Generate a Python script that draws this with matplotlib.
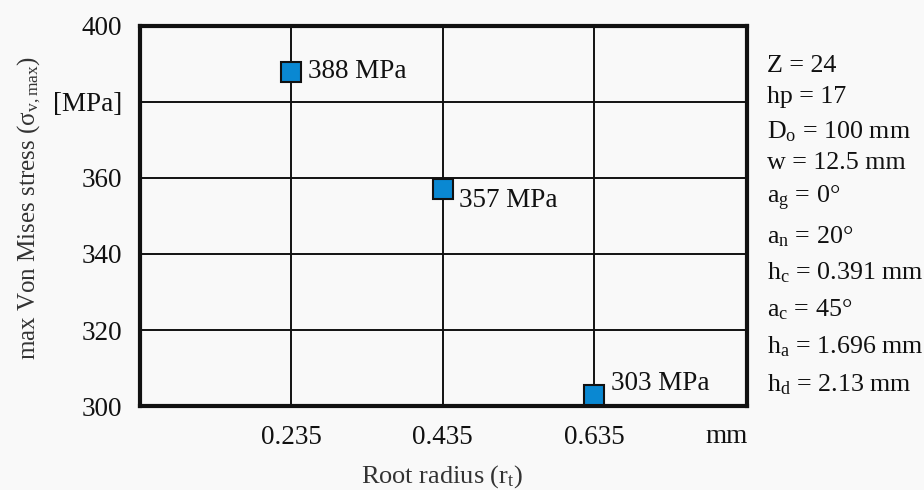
import matplotlib
matplotlib.use("Agg")
import matplotlib.pyplot as plt

plt.rcParams['font.family'] = ['Liberation Serif', 'DejaVu Serif']
plt.rcParams['mathtext.fontset'] = 'custom'
plt.rcParams['mathtext.rm'] = 'Liberation Serif'
plt.rcParams['mathtext.it'] = 'Liberation Serif:italic'

# Root radius (mm) and peak von Mises stress (MPa)
root_radius = [0.235, 0.435, 0.635]
max_stress = [388, 357, 303]
x_ticks = [0.235, 0.435, 0.635]
y_ticks = [300, 320, 340, 360, 380, 400]
y_tick_labels = ['300', '320', '340', '360', '[MPa]', '400']

# Gear parameters listed beside the plot
params = [
    r'Z = 24',
    r'hp = 17',
    r'D$_{\mathrm{o}}$ = 100 mm',
    r'w = 12.5 mm',
    r'a$_{\mathrm{g}}$ = 0°',
    r'a$_{\mathrm{n}}$ = 20°',
    r'h$_{\mathrm{c}}$ = 0.391 mm',
    r'a$_{\mathrm{c}}$ = 45°',
    r'h$_{\mathrm{a}}$ = 1.696 mm',
    r'h$_{\mathrm{d}}$ = 2.13 mm',
]
param_y_px = [66, 97, 132, 163, 198, 237, 273, 310, 347, 385]

FS = 19.5
bg = '#f9f9f9'
fig = plt.figure(figsize=(9.24, 4.90), dpi=100, facecolor=bg)
ax = fig.add_axes([0.1515, 0.1714, 0.6569, 0.7756], facecolor=bg)

ax.set_xlim(0.035, 0.837)
ax.set_ylim(300, 400)
ax.set_xticks(x_ticks)
ax.set_xticklabels([f'{v:.3f}' for v in x_ticks])
ax.set_yticks(y_ticks)
ax.set_yticklabels(y_tick_labels)
ax.tick_params(length=0, labelsize=FS, colors='#111111')
ax.tick_params(axis='y', pad=13)
ax.tick_params(axis='x', pad=14)
ax.grid(True, color='#111111', linewidth=1.4)
ax.set_axisbelow(True)
for s in ax.spines.values():
    s.set_linewidth(3)
    s.set_color('#111111')

ax.plot(root_radius, max_stress, linestyle='none', marker='s', markersize=14,
        markerfacecolor='#0a88d2', markeredgecolor='#111111', markeredgewidth=1.5,
        clip_on=False, zorder=5)

offsets = [(12, 0), (12, -8), (12, 8)]
for x, y, (dx, dy) in zip(root_radius, max_stress, offsets):
    ax.annotate(f'{y} MPa', (x, y), xytext=(dx, dy), textcoords='offset points',
                ha='left', va='center', fontsize=FS, color='#111111')

ax.text(727 / 924, 1 - 436 / 490, 'mm', transform=fig.transFigure,
        ha='center', va='center', fontsize=FS, color='#111111')

fig.text(442 / 924, 1 - 477 / 490, r'Root radius (r$_{\mathrm{t}}$)',
         ha='center', va='center', fontsize=19, color='#333333')
fig.text(29 / 924, 1 - 208 / 490, r'max Von Mises stress (σ$_{\mathrm{v,max}}$)',
         ha='center', va='center', rotation=90, fontsize=18, color='#333333')

for label, ypx in zip(params, param_y_px):
    fig.text(767 / 924, 1 - ypx / 490, label, ha='left', va='center',
             fontsize=18.7, color='#111111')

fig.savefig('out.png', dpi=100, facecolor=bg)
